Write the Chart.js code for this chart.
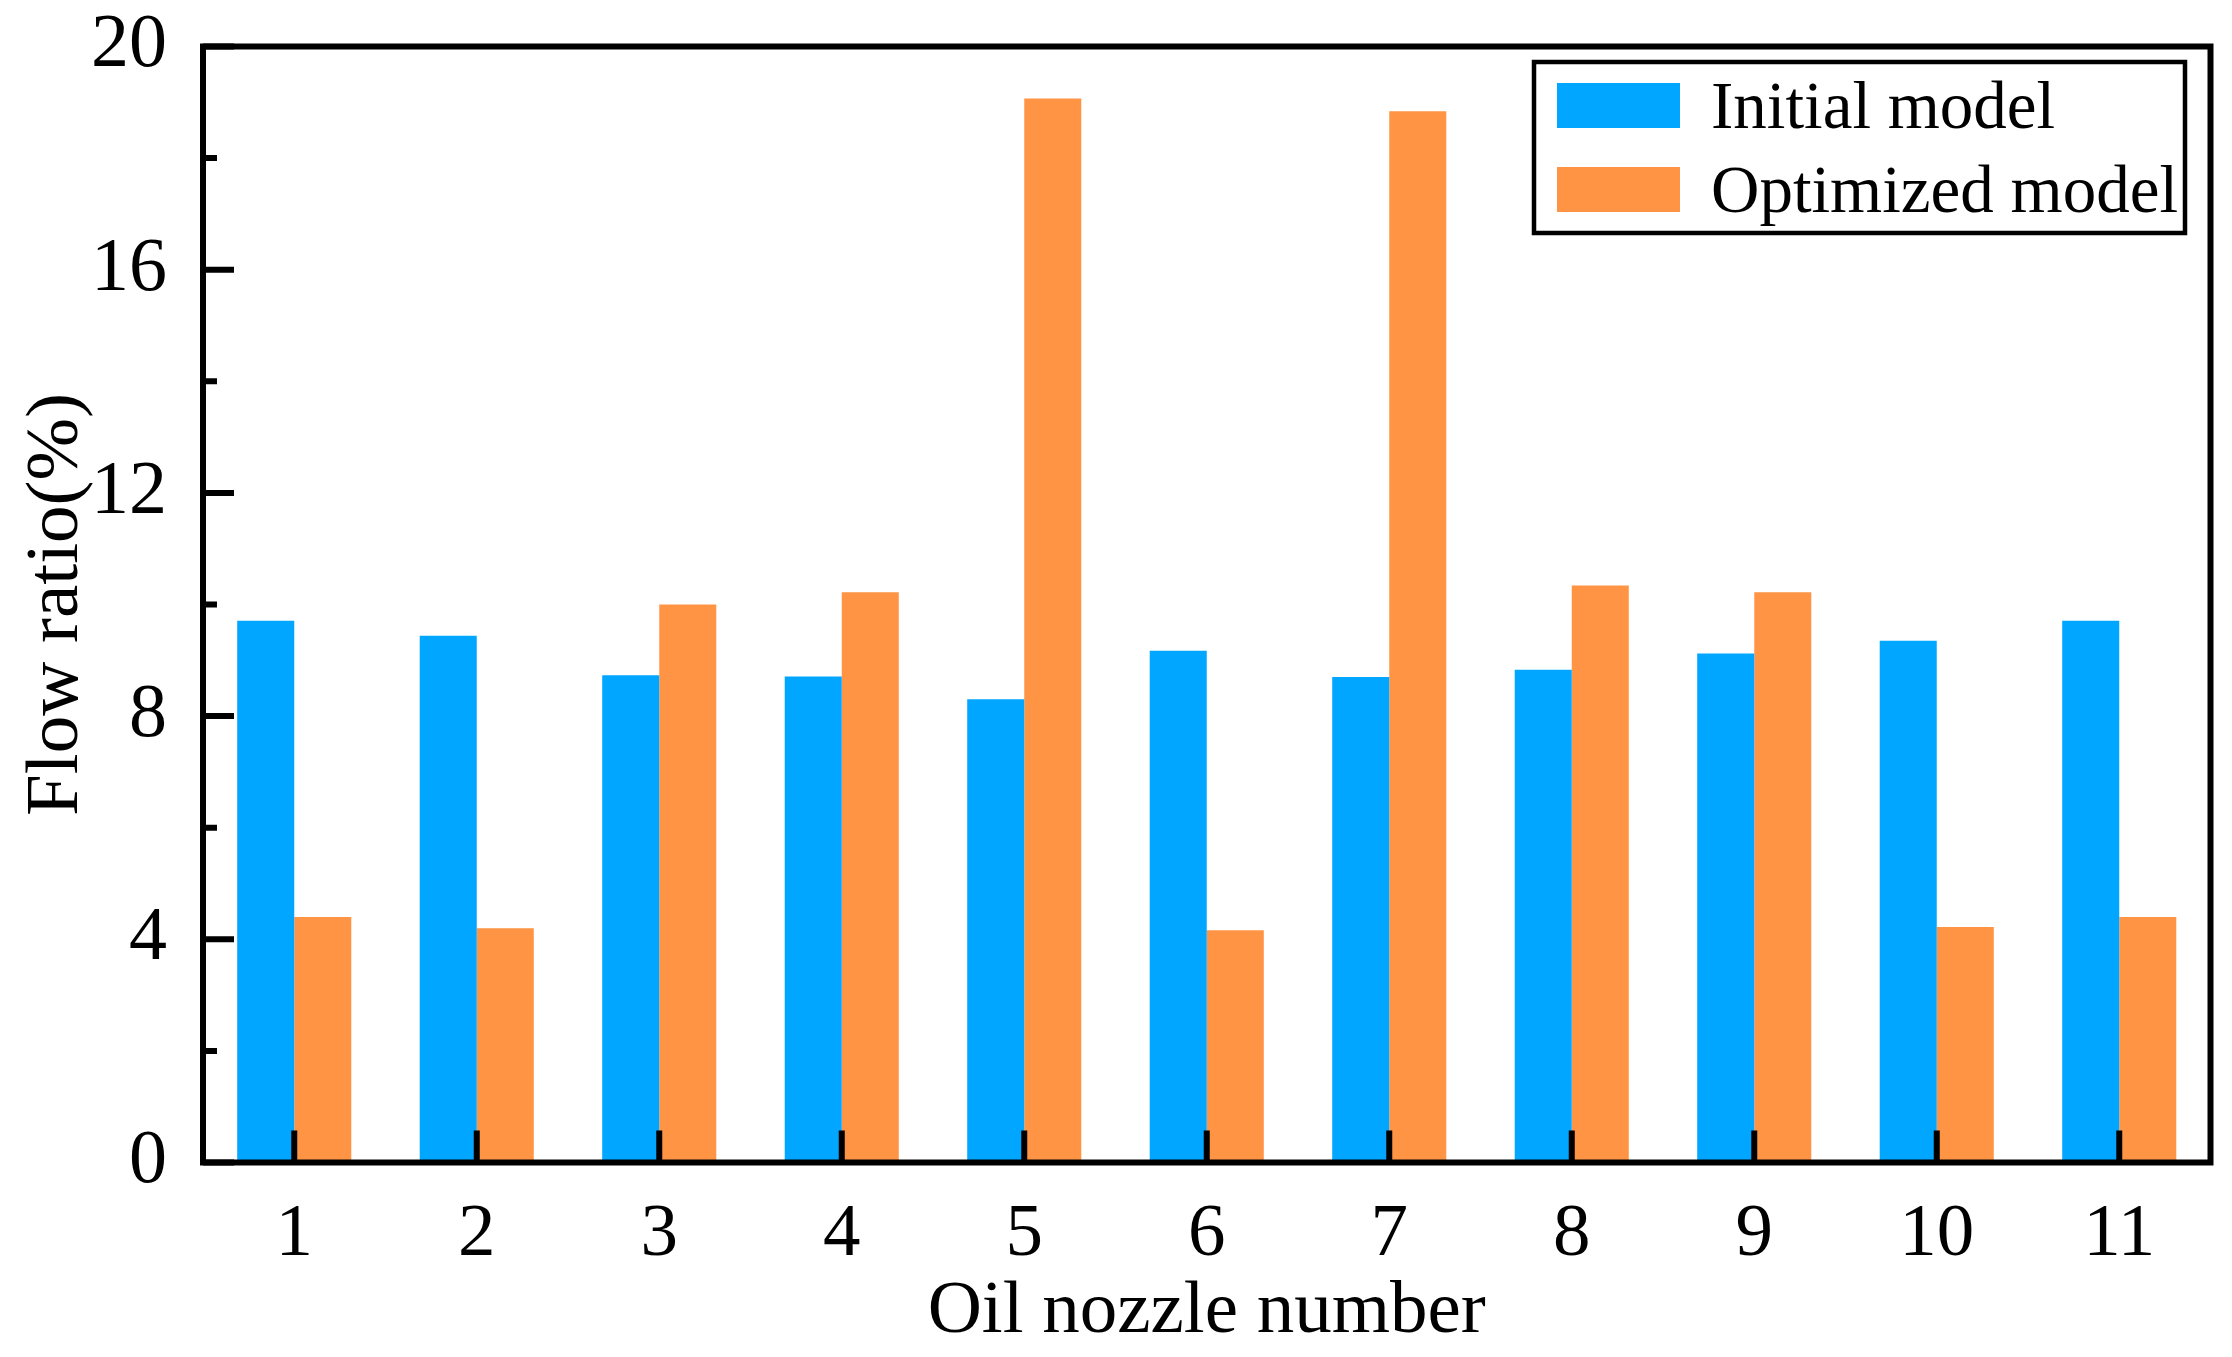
<!DOCTYPE html>
<html>
<head>
<meta charset="utf-8">
<title>Flow ratio per oil nozzle</title>
<script src="https://cdn.jsdelivr.net/npm/chart.js@4.4.1/dist/chart.umd.min.js"></script>
<style>
    html, body { margin: 0; padding: 0; background: #ffffff; }
    #wrap { width: 2232px; height: 1357px; }
</style>
</head>
<body>
<div id="wrap"><canvas id="flowChart" width="2232" height="1357"></canvas></div>
<script>
// Dati
const nozzles = ['1', '2', '3', '4', '5', '6', '7', '8', '9', '10', '11'];
const initialModel = [9.71, 9.44, 8.73, 8.71, 8.30, 9.17, 8.70, 8.83, 9.12, 9.35, 9.71];
const optimizedModel = [4.40, 4.20, 10.00, 10.22, 19.07, 4.16, 18.84, 10.34, 10.22, 4.22, 4.40];
const yTicks = [0, 4, 8, 12, 16, 20];

const FONT = '"Liberation Serif", "Times New Roman", serif';
const BLUE = '#00A6FF';
const ORANGE = '#FF9444';

// Cornice, tacche interne e legenda
const framePlugin = {
    id: 'frame',
    afterDatasetsDraw(chart) {
        const { ctx, chartArea: a, scales: { x, y } } = chart;
        ctx.save();
        ctx.strokeStyle = '#000';
        ctx.lineWidth = 6;
        ctx.beginPath();
        // tacche asse y (maggiori + minori)
        for (let i = 0; i < yTicks.length; i++) {
            const py = y.getPixelForValue(yTicks[i]);
            ctx.moveTo(a.left, py);
            ctx.lineTo(a.left + 31, py);
            if (i < yTicks.length - 1) {
                const pm = y.getPixelForValue((yTicks[i] + yTicks[i + 1]) / 2);
                ctx.moveTo(a.left, pm);
                ctx.lineTo(a.left + 14, pm);
            }
        }
        // tacche asse x
        nozzles.forEach((n, i) => {
            const px = x.getPixelForValue(i);
            ctx.moveTo(px, a.bottom);
            ctx.lineTo(px, a.bottom - 32);
        });
        ctx.stroke();
        ctx.strokeRect(a.left, a.top, a.right - a.left, a.bottom - a.top);
        ctx.restore();
    },
    afterDraw(chart) {
        const { ctx } = chart;
        ctx.save();
        ctx.fillStyle = '#fff';
        ctx.fillRect(1534, 62, 651, 171);
        ctx.strokeStyle = '#000';
        ctx.lineWidth = 4.5;
        ctx.strokeRect(1534, 62, 651, 171);
        ctx.font = '67px ' + FONT;
        ctx.textBaseline = 'alphabetic';
        ctx.textAlign = 'left';
        chart.data.datasets.forEach((ds, i) => {
            const top = 83 + i * 84;
            ctx.fillStyle = ds.backgroundColor;
            ctx.fillRect(1557, top, 123, 45);
            ctx.fillStyle = '#000';
            ctx.fillText(ds.label, 1711, top + 45);
        });
        ctx.restore();
    }
};

new Chart(document.getElementById('flowChart'), {
    type: 'bar',
    data: {
        labels: nozzles,
        datasets: [{
            label: 'Initial model',
            data: initialModel,
            backgroundColor: BLUE,
            borderWidth: 0
        }, {
            label: 'Optimized model',
            data: optimizedModel,
            backgroundColor: ORANGE,
            borderWidth: 0
        }]
    },
    options: {
        responsive: false,
        animation: false,
        devicePixelRatio: 1,
        categoryPercentage: 0.625,
        barPercentage: 1.0,
        layout: { padding: { top: 46.5, right: 21.5, left: 0, bottom: 0 } },
        plugins: {
            legend: { display: false },
            tooltip: { enabled: false }
        },
        scales: {
            x: {
                offset: true,
                grid: { display: false },
                border: { display: false },
                ticks: { color: '#000', font: { family: FONT, size: 75 }, padding: 20, maxRotation: 0 },
                title: {
                    display: true,
                    text: 'Oil nozzle number',
                    color: '#000',
                    font: { family: FONT, size: 75 },
                    padding: { top: 0, bottom: 0 }
                },
                afterFit(scale) {
                    scale.height = 194.5;
                    scale.paddingLeft = 0;
                    scale.paddingRight = 0;
                }
            },
            y: {
                min: 0,
                max: 20,
                grid: { display: false },
                border: { display: false },
                afterBuildTicks(scale) { scale.ticks = yTicks.map(v => ({ value: v })); },
                ticks: { color: '#000', font: { family: FONT, size: 76 }, padding: 28 },
                title: {
                    display: true,
                    text: 'Flow ratio(%)',
                    color: '#000',
                    font: { family: FONT, size: 75 },
                    padding: { top: 12, bottom: 0 }
                },
                afterFit(scale) {
                    scale.width = 203;
                    scale.paddingTop = 0;
                    scale.paddingBottom = 0;
                }
            }
        }
    },
    plugins: [framePlugin]
});
</script>
</body>
</html>
